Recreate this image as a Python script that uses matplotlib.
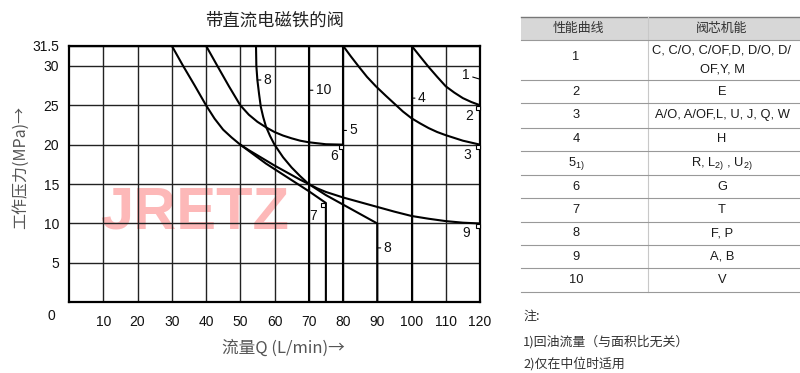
import numpy as np
import matplotlib
matplotlib.use("Agg")
import matplotlib.pyplot as plt
from matplotlib.transforms import offset_copy
from matplotlib.patches import Rectangle

plt.rcParams['font.family'] = ['Liberation Sans', 'Noto Sans CJK SC', 'DejaVu Sans']
plt.rcParams['mathtext.fontset'] = 'custom'
plt.rcParams['mathtext.rm'] = 'Liberation Sans'

# ---------------- data ----------------
q_ticks = [10, 20, 30, 40, 50, 60, 70, 80, 90, 100, 110, 120]
p_ticks = [5, 10, 15, 20, 25, 30, 31.5]
p_tick_labels = ['5', '10', '15', '20', '25', '30', '31.5']

# curve 1 / 2  (ends at 120, 25)
c1_q = [100, 102.5, 104.9, 107.5, 110, 112.5, 115, 117.5, 120]
c1_p = [31.5, 30.7, 29.9, 28.6, 27.4, 26.6, 25.9, 25.4, 25.0]
# curve 3 (ends at 120, 20)
c3_q = [80, 82.3, 84.6, 87, 89.6, 92.5, 95, 97.5, 100, 102.5, 105, 107.5, 110, 112.5, 115, 117.5, 120]
c3_p = [31.5, 30.7, 29.9, 28.6, 27.4, 26.2, 25.2, 24.2, 23.35, 22.7, 22.1, 21.6, 21.2, 20.85, 20.5, 20.25, 20.0]
# curve 6 (ends at 80, 20)
c6_q = [40, 43.3, 46.7, 50, 52.5, 55, 57.5, 60, 62.5, 65, 67.5, 70, 75, 80]
c6_p = [31.5, 30.0, 27.4, 25.0, 23.8, 22.9, 22.2, 21.6, 21.15, 20.8, 20.5, 20.3, 20.05, 20.0]
# curve 9 (starts at 30, ends at 120, 10)
c9_q = [30, 33.3, 36.7, 40, 42.5, 45, 47.5, 50, 52.5, 55, 57.5, 60, 62.5, 65, 67.5, 70,
        72.5, 75, 80, 85, 90, 95, 100, 105, 110, 115, 120]
c9_p = [31.5, 30.0, 27.5, 25.0, 23.3, 21.9, 20.9, 20.0, 19.3, 18.65, 18.0, 17.35, 16.75, 16.15, 15.55, 15.0,
        14.45, 14.0, 13.3, 12.7, 12.1, 11.5, 10.95, 10.6, 10.3, 10.1, 10.0]
# curve 7 (branches at 50, 20; ends at 75, 12.6 then drops)
c7_q = [50, 52.5, 55, 57.5, 60, 62.5, 65, 67.5, 70, 72.5, 75, 75]
c7_p = [20.0, 19.2, 18.4, 17.6, 16.9, 16.2, 15.5, 14.8, 14.1, 13.35, 12.6, 0]
# curve 8
c8_q = [54.6, 54.7, 55.0, 55.5, 56, 56.7, 57.5, 58.7, 60, 62.5, 65, 67.5, 70, 75, 80, 85, 90, 90]
c8_p = [31.5, 30.0, 28.2, 26.4, 24.8, 23.5, 22.3, 21.1, 20.0, 18.4, 17.1, 16.0, 15.0, 13.6, 12.4, 11.2, 10.0, 0]
# vertical flow limits: curves 10, 5, 4
c10_q = [70, 70]
c10_p = [0, 31.5]
c5_q = [80, 80]
c5_p = [0, 31.5]
c4_q = [100, 100]
c4_p = [0, 31.5]

curve_ids = ['1', '2', '3', '4', r'5$_{\mathregular{1)}}$', '6', '7', '8', '9', '10']
spool_types = ['C, C/O, C/OF,D, D/O, D/\nOF,Y, M', 'E', 'A/O, A/OF,L, U, J, Q, W', 'H',
               r'R, L$_{\mathregular{2)}}$ , U$_{\mathregular{2)}}$',
               'G', 'T', 'F, P', 'A, B', 'V']
notes = ['注:', '1)回油流量（与面积比无关）', '2)仅在中位时适用']

# ---------------- figure ----------------
fig = plt.figure(figsize=(8, 3.73), dpi=100)
ax = fig.add_axes([69/800, (373-302.3)/373, 411/800, 256.6/373])


def fwd(y):
    y = np.asarray(y, float)
    return np.where(y <= 30, y, 30 + (y - 30) * 1.7)


def inv(v):
    v = np.asarray(v, float)
    return np.where(v <= 30, v, 30 + (v - 30) / 1.7)


ax.set_yscale('function', functions=(fwd, inv))
ax.set_xlim(0, 120)
ax.set_ylim(0, 31.5)
ax.set_xticks(q_ticks)
ax.set_xticklabels([str(v) for v in q_ticks])
ax.set_yticks(p_ticks)
ax.set_yticklabels(p_tick_labels)
ax.yaxis.set_minor_locator(matplotlib.ticker.NullLocator())
ax.tick_params(length=0, labelsize=10, colors='#111')
ax.tick_params(axis='x', pad=9)
ax.tick_params(axis='y', pad=7)
ax.set_axisbelow(True)
ax.grid(True, color='#222', lw=1.0)
for s in ax.spines.values():
    s.set_linewidth(1.6)
    s.set_color('black')

# watermark
ax.text(36.6, 11.3, 'JRETZ', color='#fdb8b8', fontsize=43,
        fontweight='bold', ha='center', va='center', zorder=0.2)

kw = dict(color='black', lw=1.5, zorder=3, solid_joinstyle='round')
for qq, pp in [(c1_q, c1_p), (c3_q, c3_p), (c6_q, c6_p), (c9_q, c9_p), (c7_q, c7_p),
               (c8_q, c8_p), (c10_q, c10_p), (c5_q, c5_p), (c4_q, c4_p)]:
    ax.plot(qq, pp, **kw)


def notch(x, y):
    tr = offset_copy(ax.transData, fig=fig, x=-2.5, y=-2.5, units='dots')
    ax.plot([x], [y], marker='s', ms=3.3, mfc='white', mec='black', mew=0.8,
            transform=tr, zorder=4, clip_on=False)


notch(c1_q[-1], c1_p[-1])
notch(c3_q[-1], c3_p[-1])
notch(c6_q[-1], c6_p[-1])
notch(c9_q[-1], c9_p[-1])
notch(c7_q[-2], c7_p[-2])

lab = dict(fontsize=10, color='#111', zorder=5)
arr = dict(arrowstyle='-', lw=0.8, color='black', shrinkA=0, shrinkB=0)
ax.annotate('1', xy=(120, 28.3), xytext=(-10, 3), textcoords='offset points',
            ha='center', va='center', arrowprops=arr, **lab)
ax.annotate('10', xy=(70, 26.9), xytext=(5, 0), textcoords='offset points',
            ha='left', va='center', arrowprops=arr, **lab)
ax.annotate('4', xy=(100, 25.9), xytext=(4.5, 0), textcoords='offset points',
            ha='left', va='center', arrowprops=arr, **lab)
ax.annotate('5', xy=(80, 21.8), xytext=(4.5, 0), textcoords='offset points',
            ha='left', va='center', arrowprops=arr, **lab)
ax.annotate('8', xy=(55.0, 28.2), xytext=(4.5, 0), textcoords='offset points',
            ha='left', va='center', arrowprops=arr, **lab)
ax.annotate('8', xy=(90, 6.9), xytext=(4.5, 0), textcoords='offset points',
            ha='left', va='center', arrowprops=arr, **lab)
ax.text(116.8, 23.6, '2', ha='center', va='center', **lab)
ax.text(116.2, 18.7, '3', ha='center', va='center', **lab)
ax.text(77.3, 18.5, '6', ha='center', va='center', **lab)
ax.text(71.3, 10.9, '7', ha='center', va='center', **lab)
ax.text(116.1, 8.75, '9', ha='center', va='center', **lab)

fig.text(51/800, 1-316/373, '0', ha='center', va='center', fontsize=10, color='#111')

fig.text(275/800, 1-20.5/373, '带直流电磁铁的阀', ha='center', va='center', fontsize=12.5,
         family=['Noto Sans CJK SC', 'DejaVu Sans'], color='#222')
fig.text(20/800, 1-167/373, '工作压力(MPa)→', rotation=90, ha='center', va='center',
         fontsize=11.5, family=['Noto Sans CJK SC', 'DejaVu Sans'], color='#555')
fig.text(283/800, 1-348/373, '流量Q (L/min)→', ha='center', va='center',
         fontsize=12, family=['Noto Sans CJK SC', 'DejaVu Sans'], color='#555')

# ---------------- table ----------------
tx = fig.add_axes([0, 0, 1, 1], zorder=10)
tx.set_xlim(0, 800)
tx.set_ylim(373, 0)
tx.axis('off')
tx.patch.set_alpha(0)

left, mid, right = 521, 648, 800
row_edges = [40, 80, 103.3, 127.5, 151, 175, 198.3, 221.7, 245, 268.3, 292.3]
tx.add_patch(Rectangle((left, 17), right - left, 23, facecolor='#d7d7d7', edgecolor='none'))
tx.plot([left, right], [17, 17], color='#777', lw=1.0)
tx.plot([mid, mid], [17, row_edges[-1]], color='#c8c8c8', lw=0.8)
for y in row_edges:
    tx.plot([left, right], [y, y], color='#999', lw=0.8)
tfont = dict(fontsize=9.3, color='#1a1a1a', ha='center', va='center')
tx.text(578, 28.5, '性能曲线', family=['Noto Sans CJK SC', 'DejaVu Sans'], fontsize=9.3,
        color='#333', ha='center', va='center')
tx.text(722, 28.5, '阀芯机能', family=['Noto Sans CJK SC', 'DejaVu Sans'], fontsize=9.3,
        color='#333', ha='center', va='center')
for i, (cid, sp) in enumerate(zip(curve_ids, spool_types)):
    yc = (row_edges[i] + row_edges[i + 1]) / 2
    tx.text(576, yc - (2.5 if i == 0 else 0), cid, **tfont)
    if '\n' in sp:
        l1, l2 = sp.split('\n')
        tx.text(722, yc - 9.5, l1, **tfont)
        tx.text(722, yc + 10, l2, **tfont)
    else:
        tx.text(722, yc, sp, **tfont)

note_y = [316, 341.7, 363.3]
for ny, nt in zip(note_y, notes):
    tx.text(523, ny, nt, fontsize=9.3, color='#333', ha='left', va='center',
            family=['Noto Sans CJK SC', 'DejaVu Sans'])

fig.savefig('out.png', dpi=100)
